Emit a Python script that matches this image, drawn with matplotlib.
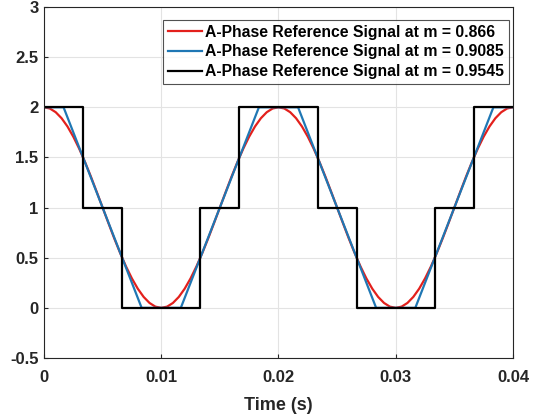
import numpy as np
import matplotlib.pyplot as plt

# red: smooth reference, sampled every 0.5 ms over two periods
red_t = np.linspace(0, 0.04, 81)
red_v = [2.000, 1.988, 1.951, 1.891, 1.809, 1.707, 1.588, 1.454, 1.309, 1.156,
         1.000, 0.844, 0.691, 0.546, 0.412, 0.293, 0.191, 0.109, 0.049, 0.012,
         0.000, 0.012, 0.049, 0.109, 0.191, 0.293, 0.412, 0.546, 0.691, 0.844,
         1.000, 1.156, 1.309, 1.454, 1.588, 1.707, 1.809, 1.891, 1.951, 1.988,
         2.000, 1.988, 1.951, 1.891, 1.809, 1.707, 1.588, 1.454, 1.309, 1.156,
         1.000, 0.844, 0.691, 0.546, 0.412, 0.293, 0.191, 0.109, 0.049, 0.012,
         0.000, 0.012, 0.049, 0.109, 0.191, 0.293, 0.412, 0.546, 0.691, 0.844,
         1.000, 1.156, 1.309, 1.454, 1.588, 1.707, 1.809, 1.891, 1.951, 1.988,
         2.000]

# blue: trapezoid corners
blue_t = [0, 0.00167, 0.00833, 0.01167, 0.01833, 0.02167, 0.02833, 0.03167, 0.03833, 0.04]
blue_v = [2, 2, 0, 0, 2, 2, 0, 0, 2, 2]

# black: six-step levels (value holds from each time until the next)
black_t = [0, 0.00333, 0.00667, 0.01333, 0.01667, 0.02333, 0.02667, 0.03333, 0.03667, 0.04]
black_v = [2, 1, 0, 1, 2, 1, 0, 1, 2, 2]

labels = ['A-Phase Reference Signal at m = 0.866',
          'A-Phase Reference Signal at m = 0.9085',
          'A-Phase Reference Signal at m = 0.9545']

plt.rcParams['font.family'] = 'Liberation Sans'
plt.rcParams['font.weight'] = 'bold'

fig = plt.figure(figsize=(5.43, 4.17), dpi=100)
ax = fig.add_axes([0.081, 0.1415, 0.8637, 0.8417])

ax.plot(red_t, red_v, color='#e3201c', lw=1.6, label=labels[0])
ax.plot(blue_t, blue_v, color='#1f77b4', lw=1.6, label=labels[1])
ax.step(black_t, black_v, where='post', color='black', lw=1.6, label=labels[2])

ax.set_xlim(0, 0.04)
ax.set_ylim(-0.5, 3)
ax.set_xticks([0, 0.01, 0.02, 0.03, 0.04])
ax.set_xticklabels(['0', '0.01', '0.02', '0.03', '0.04'])
ax.set_yticks([-0.5, 0, 0.5, 1, 1.5, 2, 2.5, 3])
ax.set_yticklabels(['-0.5', '0', '0.5', '1', '1.5', '2', '2.5', '3'])
ax.grid(True, color='#e3e3e3', lw=0.8)
ax.set_axisbelow(True)
ax.tick_params(direction='in', length=3, labelsize=12, colors='#262626')
ax.tick_params(axis='x', pad=9)
ax.tick_params(axis='y', pad=4)
for lab in ax.get_xticklabels() + ax.get_yticklabels():
    lab.set_fontweight('bold')
for s in ax.spines.values():
    s.set_color('#262626')
    s.set_linewidth(0.8)

ax.set_xlabel('Time (s)', fontsize=13, fontweight='bold', color='#262626', labelpad=8)

leg = ax.legend(loc='upper right', fontsize=11.3, frameon=True, fancybox=False,
                edgecolor='#262626', handlelength=2.2, handletextpad=0.2,
                borderpad=0.3, labelspacing=0.3, borderaxespad=0,
                bbox_to_anchor=(0.9915, 0.963))
leg.get_frame().set_linewidth(0.8)

fig.savefig('out.png', dpi=100)
